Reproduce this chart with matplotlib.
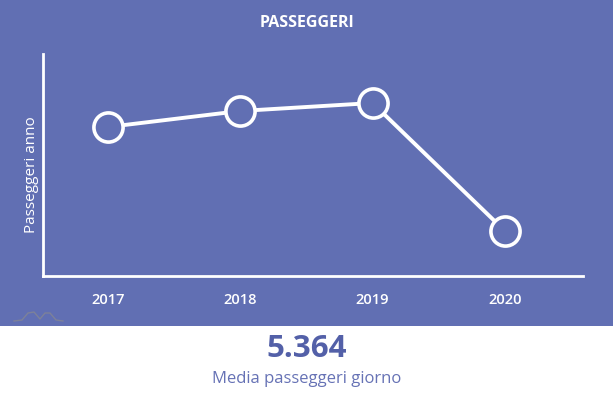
import matplotlib.pyplot as plt
from matplotlib.patches import Rectangle
from matplotlib.lines import Line2D

plt.rcParams['font.family'] = ['Open Sans', 'DejaVu Sans']

years = [2017, 2018, 2019, 2020]
passeggeri = [1.49, 1.65, 1.73, 0.45]  # stima, milioni
media_giorno = "5.364"
label_media = "Media passeggeri giorno"

blu = '#616fb3'
W, H = 614, 396

fig = plt.figure(figsize=(W / 100, H / 100), dpi=100, facecolor='white')
fig.add_artist(Rectangle((0, (H - 326) / H), 613 / W, 326 / H,
                         transform=fig.transFigure, facecolor=blu, edgecolor='none', zorder=0))

ax = fig.add_axes([43 / W, (H - 276) / H, (583 - 43) / W, (276 - 54) / H])
ax.set_facecolor('none')
ax.plot(years, passeggeri, color='white', lw=2.8, marker='o', markersize=21,
        markerfacecolor=blu, markeredgecolor='white', markeredgewidth=2.6, zorder=3)
ax.set_xlim(2017 - 0.49, 2020 + 0.59)
ax.set_ylim(0, 2.22)
ax.set_xticks(years)
ax.set_xticklabels([str(y) for y in years], fontweight='semibold')
ax.set_yticks([])
ax.tick_params(axis='x', length=0, colors='white', labelsize=10.5, pad=12)
for s in ['top', 'right']:
    ax.spines[s].set_visible(False)
for s in ['left', 'bottom']:
    ax.spines[s].set_color('white')
    ax.spines[s].set_linewidth(2)
ax.set_ylabel("Passeggeri anno", color='white', fontsize=11)
ax.yaxis.set_label_coords(-0.008, 0.455)

fig.text(307 / W, 1 - 23 / H, "PASSEGGERI", color='white', fontsize=11.5,
         fontweight='bold', ha='center', va='center')

# piccolo logo in basso a sinistra
fig.add_artist(Line2D([14 / W, 22 / W, 28 / W, 34 / W, 40 / W, 45 / W, 50 / W, 56 / W, 63 / W],
                      [1 - 321 / H, 1 - 320 / H, 1 - 313 / H, 1 - 312 / H, 1 - 319 / H,
                       1 - 313 / H, 1 - 313 / H, 1 - 320 / H, 1 - 321 / H],
                      transform=fig.transFigure, color='#7d8199', lw=1))

fig.text(307 / W, 1 - 349 / H, media_giorno, color='#5360a8', fontsize=22.5,
         fontweight='bold', ha='center', va='center')
fig.text(307 / W, 1 - 379 / H, label_media, color='#6672b5', fontsize=12,
         ha='center', va='center')

fig.savefig('out.png', dpi=100, facecolor='white')
